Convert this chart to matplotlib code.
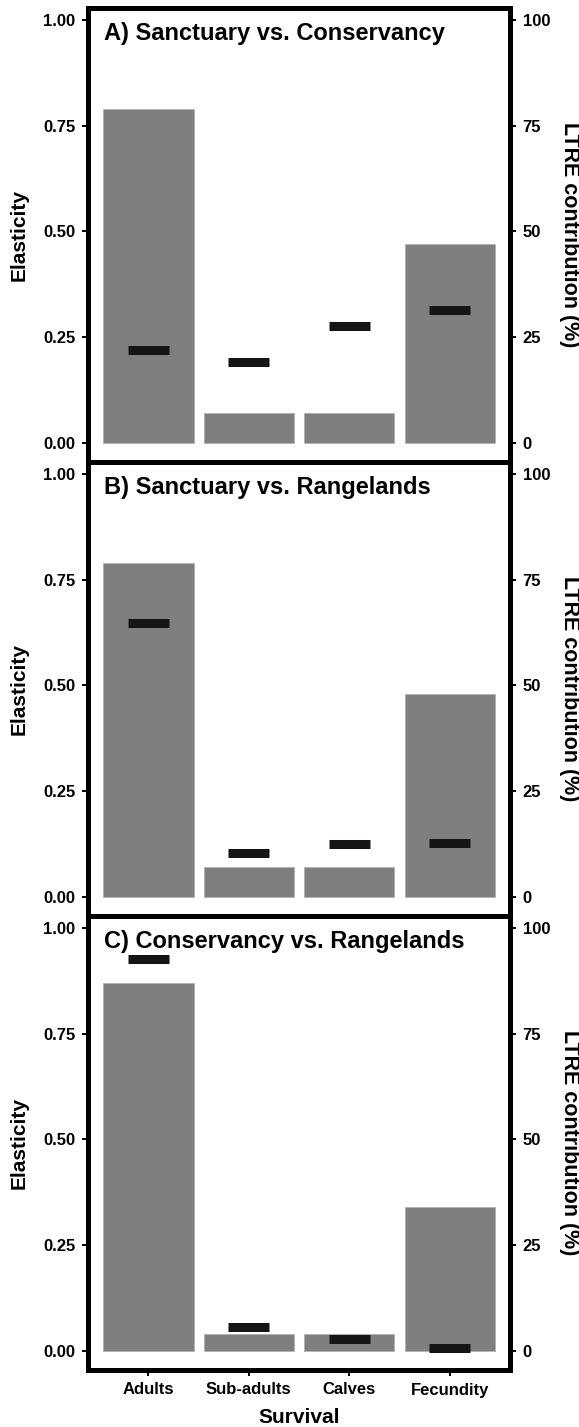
import numpy as np
import matplotlib
matplotlib.use("Agg")
import matplotlib.pyplot as plt

plt.rcParams['font.family'] = ['Liberation Sans', 'DejaVu Sans']
plt.rcParams['font.weight'] = 'bold'

# data
categories = ['Adults', 'Sub-adults', 'Calves', 'Fecundity']
titles = ['A) Sanctuary vs. Conservancy',
          'B) Sanctuary vs. Rangelands',
          'C) Conservancy vs. Rangelands']
elasticity_a = [0.79, 0.07, 0.07, 0.47]
elasticity_b = [0.79, 0.07, 0.07, 0.48]
elasticity_c = [0.87, 0.04, 0.04, 0.34]
ltre_a = [21.8, 19.1, 27.6, 31.4]
ltre_b = [64.7, 10.3, 12.4, 12.6]
ltre_c = [92.7, 5.6, 2.7, 0.5]

elasticities = [elasticity_a, elasticity_b, elasticity_c]
ltres = [ltre_a, ltre_b, ltre_c]

W, H = 579, 1427
fig = plt.figure(figsize=(W / 100, H / 100), dpi=100)

left_px, right_px = 88, 510
top_px, bottom_px = 8, 1370
panel_h = (bottom_px - top_px) / 3

ylo, yhi = -0.046, 1.028
x = np.arange(1, len(categories) + 1)
spine_lw = 3.5

for i in range(3):
    y0 = 1 - (top_px + panel_h * (i + 1)) / H
    ax = fig.add_axes([left_px / W, y0, (right_px - left_px) / W, panel_h / H])
    ax2 = ax.twinx()

    # elasticity bars
    ax.bar(x, elasticities[i], width=0.9, color='#7f7f7f',
           edgecolor='#b0b0b0', linewidth=0.6, zorder=2)
    ax.set_xlim(0.4, 4.6)
    ax.set_ylim(ylo, yhi)
    ax.set_yticks([0, 0.25, 0.5, 0.75, 1.0])
    ax.set_yticklabels(['0.00', '0.25', '0.50', '0.75', '1.00'])
    ax.tick_params(axis='y', length=4.5, width=1.4, pad=4.5, labelsize=12)

    # LTRE contributions as thick dashes
    ax2.set_ylim(ylo * 100, yhi * 100)
    ax2.hlines(ltres[i], x - 0.205, x + 0.205, colors='#151515',
               linewidth=6.5, capstyle='butt', zorder=3)
    ax2.set_yticks([0, 25, 50, 75, 100])
    ax2.tick_params(axis='y', length=4.5, width=1.4, pad=4.5, labelsize=12)

    for a in (ax, ax2):
        for s in a.spines.values():
            s.set_linewidth(spine_lw)
            s.set_color('black')

    ax.set_xticks(x)
    if i < 2:
        ax.tick_params(axis='x', length=0, labelbottom=False)
    else:
        ax.set_xticklabels(categories)
        ax.tick_params(axis='x', length=4, width=1.4, pad=5, labelsize=12)

    ax.text(0.038, 1 - 32 / panel_h, titles[i], transform=ax.transAxes,
            fontsize=17, va='baseline', ha='left')
    ax.text(-0.1635, 0.5, 'Elasticity', transform=ax.transAxes,
            rotation=90, ha='center', va='center', fontsize=15)
    ax.text(1.14, 0.5, 'LTRE contribution (%)', transform=ax.transAxes,
            rotation=270, ha='center', va='center', fontsize=15.5)

fig.text((left_px + right_px) / 2 / W, 4 / H, 'Survival',
         ha='center', va='baseline', fontsize=15)

fig.savefig('out.png', dpi=100)
